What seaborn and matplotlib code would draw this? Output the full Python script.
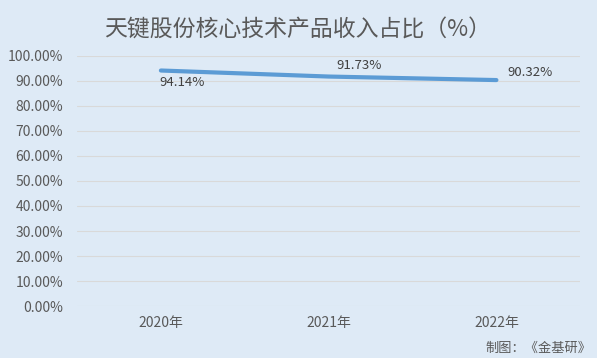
import seaborn as sns
import pandas as pd
import matplotlib.pyplot as plt
from matplotlib.ticker import PercentFormatter

# data
years = ["2020年", "2021年", "2022年"]
share = [94.14, 91.73, 90.32]
label_text = ["94.14%", "91.73%", "90.32%"]

df = pd.DataFrame({"year": years, "share": share})

sns.set_theme(style="white")
plt.rcParams['font.family'] = ['Noto Sans CJK SC', 'DejaVu Sans']

bg = "#deeaf6"
grey = "#595959"

fig = plt.figure(figsize=(5.97, 3.58), dpi=100, facecolor=bg)
ax = fig.add_axes([0.129, 0.145, 0.843, 0.699])
ax.set_facecolor(bg)

sns.lineplot(data=df, x="year", y="share", ax=ax, color="#5b9bd5",
             linewidth=3.0, sort=False)
ax.lines[0].set_solid_capstyle("round")

ax.set_ylim(0, 100)
ax.set_xlim(-0.5, 2.5)
ax.set_yticks(range(0, 101, 10))
ax.yaxis.set_major_formatter(PercentFormatter(decimals=2))
ax.grid(axis="y", color="#d9d9d9", linewidth=0.8)
ax.set_axisbelow(True)
for s in ax.spines.values():
    s.set_visible(False)
ax.tick_params(axis="both", length=0, labelsize=10, labelcolor=grey)
ax.tick_params(axis="y", pad=10)
ax.tick_params(axis="x", pad=7)
ax.set_xlabel("")
ax.set_ylabel("")

# data labels: below, above-right, right
ax.annotate(label_text[0], (0, share[0]), xytext=(-1, -4), textcoords="offset points",
            ha="left", va="top", fontsize=9.5, color="#404040")
ax.annotate(label_text[1], (1, share[1]), xytext=(22, 3), textcoords="offset points",
            ha="center", va="bottom", fontsize=9.5, color="#404040")
ax.annotate(label_text[2], (2, share[2]), xytext=(8, 1), textcoords="offset points",
            ha="left", va="bottom", fontsize=9.5, color="#404040")

fig.text(0.4985, 0.917, "天键股份核心技术产品收入占比（%）", ha="center", va="center",
         fontsize=16.5, color=grey)
fig.text(0.99, 0.028, "制图：《金基研》", ha="right", va="center",
         fontsize=9.5, color=grey)

fig.savefig("out.png", dpi=100, facecolor=bg)
